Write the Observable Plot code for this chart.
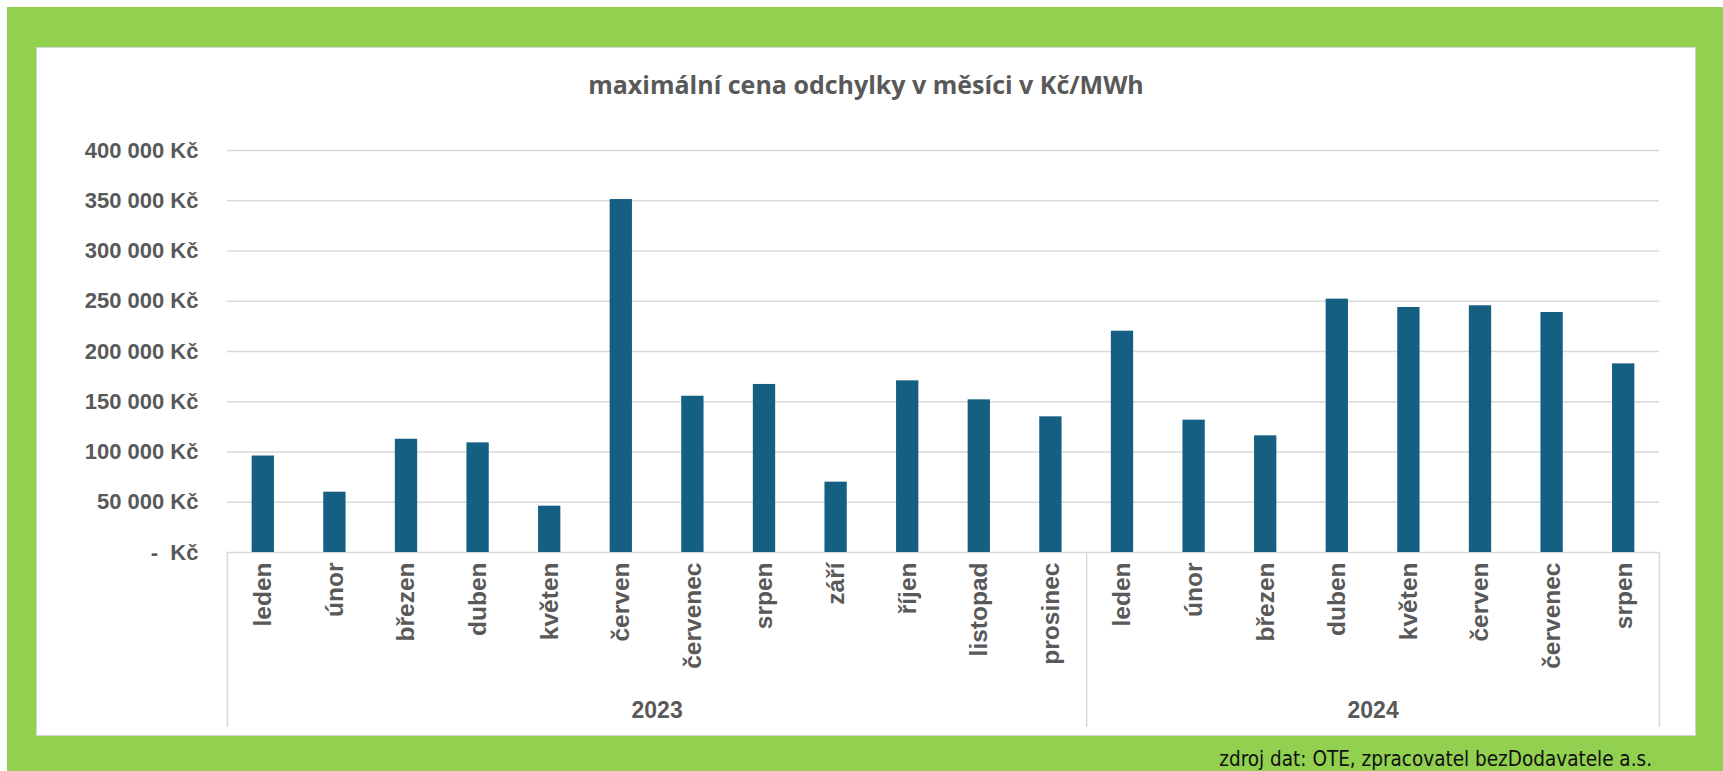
<!DOCTYPE html>
<html>
<head>
<meta charset="utf-8">
<script src="https://cdn.jsdelivr.net/npm/d3@7"></script>
<script src="https://cdn.jsdelivr.net/npm/@observablehq/plot@0.6"></script>
<style>
  html, body { margin: 0; padding: 0; }
  body { width: 1723px; height: 771px; position: relative; overflow: hidden; background: #fff; }
  #green { position: absolute; left: 7px; top: 7px; right: 0; bottom: 0; background: #92d050; }
  #panel { position: absolute; left: 36px; top: 47px; width: 1660px; height: 689px; background: #fff; border: 1px solid #d4d4d4; box-sizing: border-box; }
  #title { position: absolute; left: 36px; width: 1660px; top: 72px; text-align: center; font-family: "Open Sans", sans-serif; font-weight: 700; font-size: 25px; line-height: 1; color: #595959; white-space: nowrap; }
  #chart { position: absolute; left: 36px; top: 110px; }
  #caption { position: absolute; right: 71px; top: 749px; font-family: "Liberation Sans Narrow", "Arial Narrow", "DejaVu Sans Condensed", sans-serif; font-size: 20.5px; line-height: 1; color: #111; white-space: nowrap; }
</style>
</head>
<body>
<div id="green"></div>
<div id="panel"></div>
<div id="title">maximální cena odchylky v měsíci v Kč/MWh</div>
<div id="chart"></div>
<div id="caption">zdroj dat: OTE, zpracovatel bezDodavatele a.s.</div>
<script>
// ---- data ----
const years = ["2023", "2024"];
const months2023 = ["leden", "únor", "březen", "duben", "květen", "červen", "červenec", "srpen", "září", "říjen", "listopad", "prosinec"];
const months2024 = ["leden", "únor", "březen", "duben", "květen", "červen", "červenec", "srpen"];
const values2023 = [96000, 60000, 112700, 109100, 46100, 351200, 155500, 167200, 70000, 170800, 151900, 135000];
const values2024 = [220200, 131700, 116100, 252100, 243800, 245500, 238800, 187700];
const yTicks = [0, 50000, 100000, 150000, 200000, 250000, 300000, 350000, 400000];

// ---- table ----
const groups = [
  {year: years[0], months: months2023, values: values2023},
  {year: years[1], months: months2024, values: values2024}
];
const rows = groups.flatMap(g => g.months.map((m, i) => ({key: g.year + "|" + m, year: g.year, month: m, value: g.values[i]})));
const keys = rows.map(d => d.key);
const yearStarts = groups.map(g => g.year + "|" + g.months[0]);
const lastKey = [keys[keys.length - 1]];
const yearLabels = groups.map(g => ({year: g.year, key: g.year + "|" + g.months[g.months.length / 2 - 1]}));

// ---- layout ----
const W = 1660, H = 626, ML = 191, MR = 37, MT = 40, MB = 184;
const step = (W - ML - MR) / keys.length;
const barW = 22.3;
const inset = (step - barW) / 2;
const frameH = H - MT - MB;

const fmt = v => v === 0 ? "-\u00a0\u00a0Kč" : d3.format(",")(v).replace(/,/g, "\u00a0") + "\u00a0Kč";

const chart = Plot.plot({
  width: W,
  height: H,
  marginLeft: ML,
  marginRight: MR,
  marginTop: MT,
  marginBottom: MB,
  style: {background: "transparent", overflow: "visible"},
  x: {type: "band", domain: keys, padding: 0, round: false},
  y: {domain: [0, 400000]},
  marks: [
    Plot.gridY(yTicks, {stroke: "#d9d9d9", strokeOpacity: 1, strokeWidth: 1.5}),
    Plot.barY(rows, {x: "key", y: "value", fill: "#156082", insetLeft: inset, insetRight: inset}),
    Plot.ruleX(yearStarts, {x: d => d, dx: -step / 2, stroke: "#d9d9d9", strokeWidth: 1.5, insetTop: frameH, insetBottom: -175}),
    Plot.ruleX(lastKey, {x: d => d, dx: step / 2, stroke: "#d9d9d9", strokeWidth: 1.5, insetTop: frameH, insetBottom: -175}),
    Plot.axisY({ticks: yTicks, tickSize: 0, tickPadding: 29, tickFormat: fmt, fontSize: 22, fontWeight: 700, fontFamily: "Liberation Sans, Arial, sans-serif", fill: "#595959", label: null}),
    Plot.axisX({tickSize: 0, tickPadding: 10, tickRotate: -90, tickFormat: k => k.split("|")[1], fontSize: 24.5, fontWeight: 700, fontFamily: "Liberation Sans, Arial, sans-serif", fill: "#595959", label: null}),
    Plot.text(yearLabels, {x: "key", text: "year", dx: step / 2, frameAnchor: "bottom", dy: 165, fontSize: 23, fontWeight: 700, fontFamily: "Liberation Sans, Arial, sans-serif", fill: "#595959"})
  ]
});
document.getElementById("chart").appendChild(chart);
</script>
</body>
</html>
